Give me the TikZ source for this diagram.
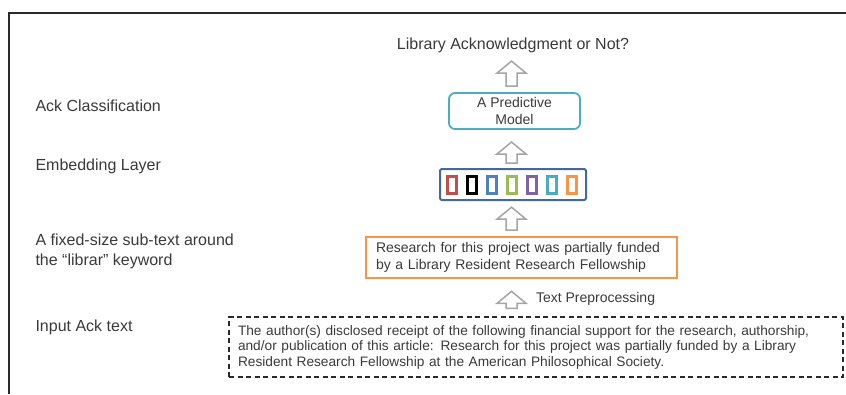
\documentclass[tikz,border=0pt]{standalone}
\usepackage{fontspec}
\setmainfont{Liberation Sans}
\definecolor{txtgray}{HTML}{3A3A3A}
\definecolor{arrowgray}{HTML}{A5A5A5}
\definecolor{framegray}{HTML}{2A2A2A}
\definecolor{modelcyan}{HTML}{4BACC6}
\definecolor{embblue}{HTML}{44699A}
\definecolor{cellred}{HTML}{C0504D}
\definecolor{cellblue}{HTML}{4F81BD}
\definecolor{cellgreen}{HTML}{9BBB59}
\definecolor{cellpurple}{HTML}{8064A2}
\definecolor{cellorange}{HTML}{F79646}
\usetikzlibrary{arrows.meta,positioning,calc}
\tikzset{pics/blockup/.style={code={
  \draw[arrowgray,fill=white,line width=1.5pt,line join=miter]
    (-5.5,0) -- (-5.5,12-#1) -- (-14.5,12-#1) -- (0,-#1) -- (14.5,12-#1) -- (5.5,12-#1) -- (5.5,0) -- cycle;}}}

\begin{document}
\begin{tikzpicture}[x=1pt,y=-1pt,
  lbl/.style={anchor=west,font=\fontsize{16}{20}\selectfont,text=txtgray,align=left},
  boxtxt/.style={font=\fontsize{14}{17}\selectfont,text=txtgray},
  cell/.style={draw=#1,line width=2.2pt,minimum width=9pt,minimum height=17pt,inner sep=0pt}]
  \useasboundingbox (0,0) rectangle (846,394);
  % Frame
  \draw[framegray,line width=1.2pt] (846,13) -- (9,13) -- (9,394);
  % Left labels
  \node[lbl] (lcls) at (32,106) {Ack Classification};
  \node[lbl] (lemb) at (32,166) {Embedding Layer};
  \node[lbl] (lsub) at (32,251) {A fixed-size sub-text around\\the ``librar'' keyword};
  \node[lbl] (linp) at (32,327) {Input Ack text};
  % Pipeline
  \node[font=\fontsize{16}{20}\selectfont,text=txtgray] (title) at (513,45) {Library Acknowledgment or Not?};
  \node[boxtxt,draw=modelcyan,line width=1.8pt,rounded corners=6pt,align=center,
    minimum width=131pt,minimum height=36pt,inner sep=0pt] (model) at (514.5,111) {A Predictive\\Model};
  \node[draw=embblue,line width=2pt,rounded corners=2pt,minimum width=146pt,minimum height=31pt] (emb) at (513,184.5) {};
  \foreach \c [count=\i from 0] in {cellred,black,cellblue,cellgreen,cellpurple,modelcyan,cellorange}
    \node[cell=\c] (cell\i) at (452+20*\i,185) {};
  \node[boxtxt,draw=cellorange,line width=1.6pt,align=left,text width=291pt,
    minimum width=311pt,minimum height=41pt,inner xsep=10pt] (sub) at (521.5,257.5)
    {Research for this project was partially funded\\by a Library Resident Research Fellowship};
  \node[boxtxt,draw=framegray,line width=1.3pt,dash pattern=on 5pt off 3.5pt,align=left,
    font=\fontsize{13.7}{15.5}\selectfont,text width=596pt,minimum width=614pt,minimum height=60pt,
    inner xsep=9pt] (input) at (536,347)
    {The author(s) disclosed receipt of the following financial support for the research, authorship,\\
     and/or publication of this article: Research for this project was partially funded by a Library\\
     Resident Research Fellowship at the American Philosophical Society.};
  % Block arrows
  \coordinate (a1) at ($(model.north -| title)+(-1.5,-6)$);
  \coordinate (a2) at ($(emb.north -| title)+(-1.5,-5)$);
  \coordinate (a3) at ($(sub.north -| title)+(-1.5,-6)$);
  \coordinate (a4) at ($(input.north -| title)+(-1.5,-8)$);
  \pic at (a1) {blockup=25};
  \pic at (a2) {blockup=21};
  \pic at (a3) {blockup=23};
  \pic at (a4) {blockup=17};
  \node[boxtxt,anchor=west] (prep) at ($(a4)+(21,-9)$) {Text Preprocessing};
\end{tikzpicture}
\end{document}
